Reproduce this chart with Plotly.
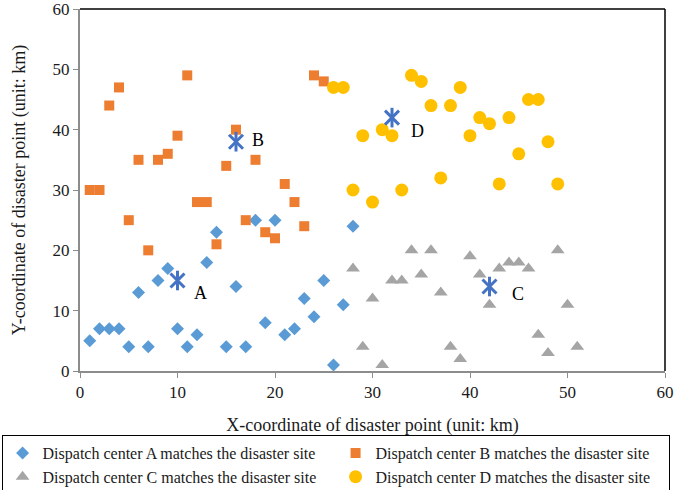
import plotly.graph_objects as go

# ---- data ----
a_x = list(range(1, 29))
a_y = [5, 7, 7, 7, 4, 13, 4, 15, 17, 7, 4, 6, 18, 23, 4, 14, 4, 25, 8, 25, 6, 7, 12, 9, 15, 1, 11, 24]

b_x = list(range(1, 26))
b_y = [30, 30, 44, 47, 25, 35, 20, 35, 36, 39, 49, 28, 28, 21, 34, 40, 25, 35, 23, 22, 31, 28, 24, 49, 48]

c_x = list(range(28, 52))
c_y = [17, 4, 12, 1, 15, 15, 20, 16, 20, 13, 4, 2, 19, 16, 11, 17, 18, 18, 17, 6, 3, 20, 11, 4]

d_x = list(range(26, 50))
d_y = [47, 47, 30, 39, 28, 40, 39, 30, 49, 48, 44, 32, 44, 47, 39, 42, 41, 31, 42, 36, 45, 45, 38, 31]

center_names = ["A", "B", "C", "D"]
center_x = [10, 16, 42, 32]
center_y = [15, 38, 14, 42]
label_shift_x = [23, 22, 28, 25]
label_shift_y = [-12, 2, -7, -13]

series_names = [
    "Dispatch center A matches the disaster site",
    "Dispatch center B matches the disaster site",
    "Dispatch center C matches the disaster site",
    "Dispatch center D matches the disaster site",
]

FONT = "Liberation Serif, Times New Roman, serif"
STAR = "#4472C4"
TXT = "#1a1a1a"

fig = go.Figure()
fig.add_trace(go.Scatter(x=a_x, y=a_y, mode="markers", name=series_names[0],
                         marker=dict(symbol="diamond", size=10, color="#5B9BD5")))
fig.add_trace(go.Scatter(x=b_x, y=b_y, mode="markers", name=series_names[1],
                         marker=dict(symbol="square", size=10, color="#ED7D31")))
fig.add_trace(go.Scatter(x=c_x, y=c_y, mode="markers", name=series_names[2],
                         marker=dict(symbol="triangle-up", size=12, color="#A5A5A5")))
fig.add_trace(go.Scatter(x=d_x, y=d_y, mode="markers", name=series_names[3],
                         marker=dict(symbol="circle", size=13, color="#FFC000")))

# dispatch centers (star markers: X + vertical bar)
fig.add_trace(go.Scatter(x=center_x, y=center_y, mode="markers", showlegend=False,
                         marker=dict(symbol="x-thin-open", size=14, color=STAR,
                                     line=dict(color=STAR, width=3))))
fig.add_trace(go.Scatter(x=center_x, y=center_y, mode="markers", showlegend=False,
                         marker=dict(symbol="line-ns-open", size=14, color=STAR,
                                     line=dict(color=STAR, width=3))))

for n, x, y, sx, sy in zip(center_names, center_x, center_y, label_shift_x, label_shift_y):
    fig.add_annotation(x=x, y=y, text=n, showarrow=False, xshift=sx, yshift=sy,
                       font=dict(family=FONT, size=18, color="black"))

# top/right frame lines (black)
fig.add_shape(type="line", xref="paper", yref="paper", x0=0, x1=1, y0=1, y1=1,
              line=dict(color="black", width=1.5))
fig.add_shape(type="line", xref="paper", yref="paper", x0=1, x1=1, y0=0, y1=1,
              line=dict(color="black", width=1.5))

axis_common = dict(
    range=[0, 60], dtick=10, showgrid=False, zeroline=False,
    showline=True, linecolor="#8C8C8C", linewidth=2,
    ticks="outside", ticklen=5, tickcolor="#8C8C8C", tickwidth=1,
    tickfont=dict(family=FONT, size=17, color=TXT),
    ticklabeloverflow="allow",
    automargin=False,
)

fig.update_xaxes(**axis_common,
                 title=dict(text="X-coordinate of disaster point (unit: km)",
                            font=dict(family=FONT, size=18, color=TXT), standoff=17))
fig.update_yaxes(**axis_common,
                 title=dict(text="Y-coordinate of disaster point (unit: km)",
                            font=dict(family=FONT, size=18, color=TXT), standoff=22))

PW = 685 - 79.5 - 20
PH = 490 - 9 - 119
fig.update_layout(
    width=685, height=490,
    margin=dict(l=79.5, r=20, t=9, b=119, autoexpand=False),
    plot_bgcolor="white", paper_bgcolor="white",
    font=dict(family=FONT, color=TXT),
    legend=dict(orientation="h",
                x=(1 - 79.5) / PW, xanchor="left", y=-(435 - 371) / PH, yanchor="top",
                bordercolor="black", borderwidth=1,
                entrywidth=288, entrywidthmode="pixels",
                font=dict(family=FONT, size=16, color=TXT),
                itemwidth=30, tracegroupgap=0),
)

fig.write_html("out.html", config={"displayModeBar": False},
               post_script="document.body.style.margin='0px';document.body.style.overflow='hidden';")
